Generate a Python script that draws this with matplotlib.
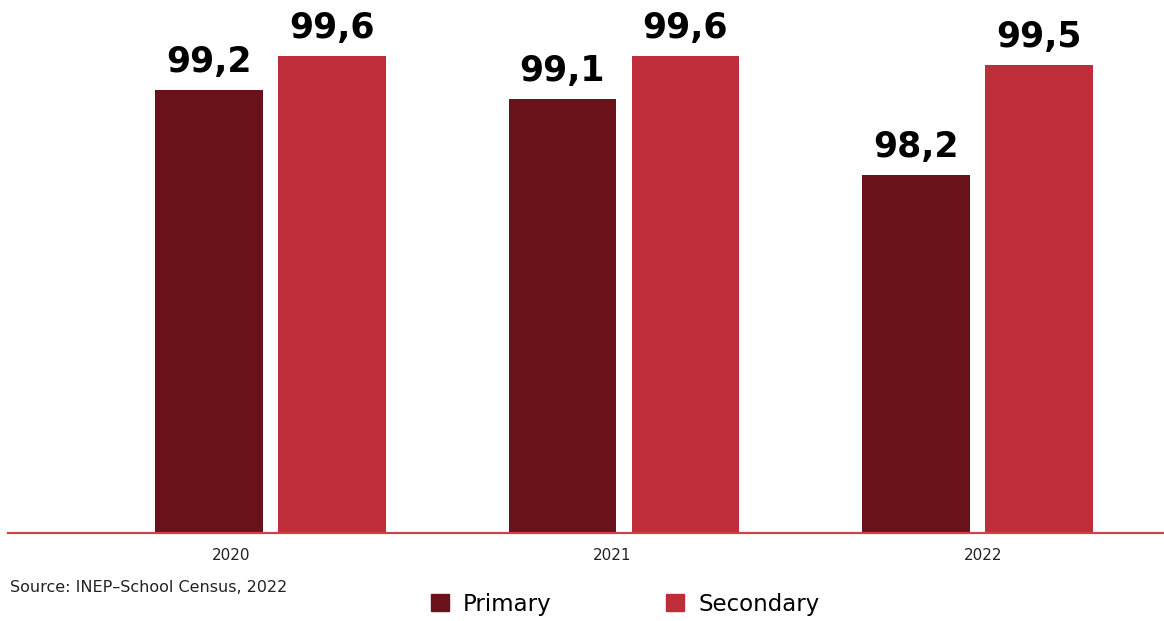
import numpy as np
from matplotlib import pyplot as plt
from matplotlib.patches import Patch

years = ['2020', '2021', '2022']
primary = [99.2, 99.1, 98.2]
secondary = [99.6, 99.6, 99.5]
labels_primary = ['99,2', '99,1', '98,2']
labels_secondary = ['99,6', '99,6', '99,5']

c_primary = '#6a1219'
c_secondary = '#c02d3a'

plt.rcParams['font.family'] = ['DejaVu Sans']

fig = plt.figure(figsize=(11.64, 6.21), dpi=100)
ax = fig.add_axes([8 / 1164, 88 / 621, 1156 / 1164, 533 / 621])

x = np.arange(len(years))
w = 0.305
off = 0.174
b1 = ax.bar(x - off, primary, w, color=c_primary, bottom=0)
b2 = ax.bar(x + off, secondary, w, color=c_secondary, bottom=0)

for bars, labs in ((b1, labels_primary), (b2, labels_secondary)):
    for b, t in zip(bars, labs):
        ax.annotate(t, (b.get_x() + b.get_width() / 2, b.get_height()),
                    xytext=(0, 8), textcoords='offset points',
                    ha='center', va='bottom', fontsize=25, fontweight='bold',
                    color='black')

ax.set_ylim(94, 100.26)
ax.set_xlim(-0.742, 2.527)
for s in ['top', 'right', 'left']:
    ax.spines[s].set_visible(False)
ax.spines['bottom'].set_color('#d0404a')
ax.spines['bottom'].set_linewidth(1.6)
ax.set_yticks([])
# year labels sit a little left of the group centres in the original
ax.set_xticks(x - np.array([0.11, 0.035, -0.015]))
ax.set_xticklabels(years, fontsize=11, color='#222222')
ax.tick_params(axis='x', length=0, pad=11)

fig.text(10 / 1164, 1 - 587 / 621, 'Source: INEP–School Census, 2022',
         fontsize=11.5, va='center', ha='left', color='#222222')

handles = [Patch(color=c_primary, label='Primary'),
           Patch(color=c_secondary, label='Secondary')]
fig.legend(handles=handles, loc='center', bbox_to_anchor=(625 / 1164, 1 - 604 / 621),
           ncol=2, frameon=False, fontsize=16.5, handlelength=0.8, handleheight=0.8,
           handletextpad=0.6, columnspacing=5.0)

plt.savefig('out.png', dpi=100)
